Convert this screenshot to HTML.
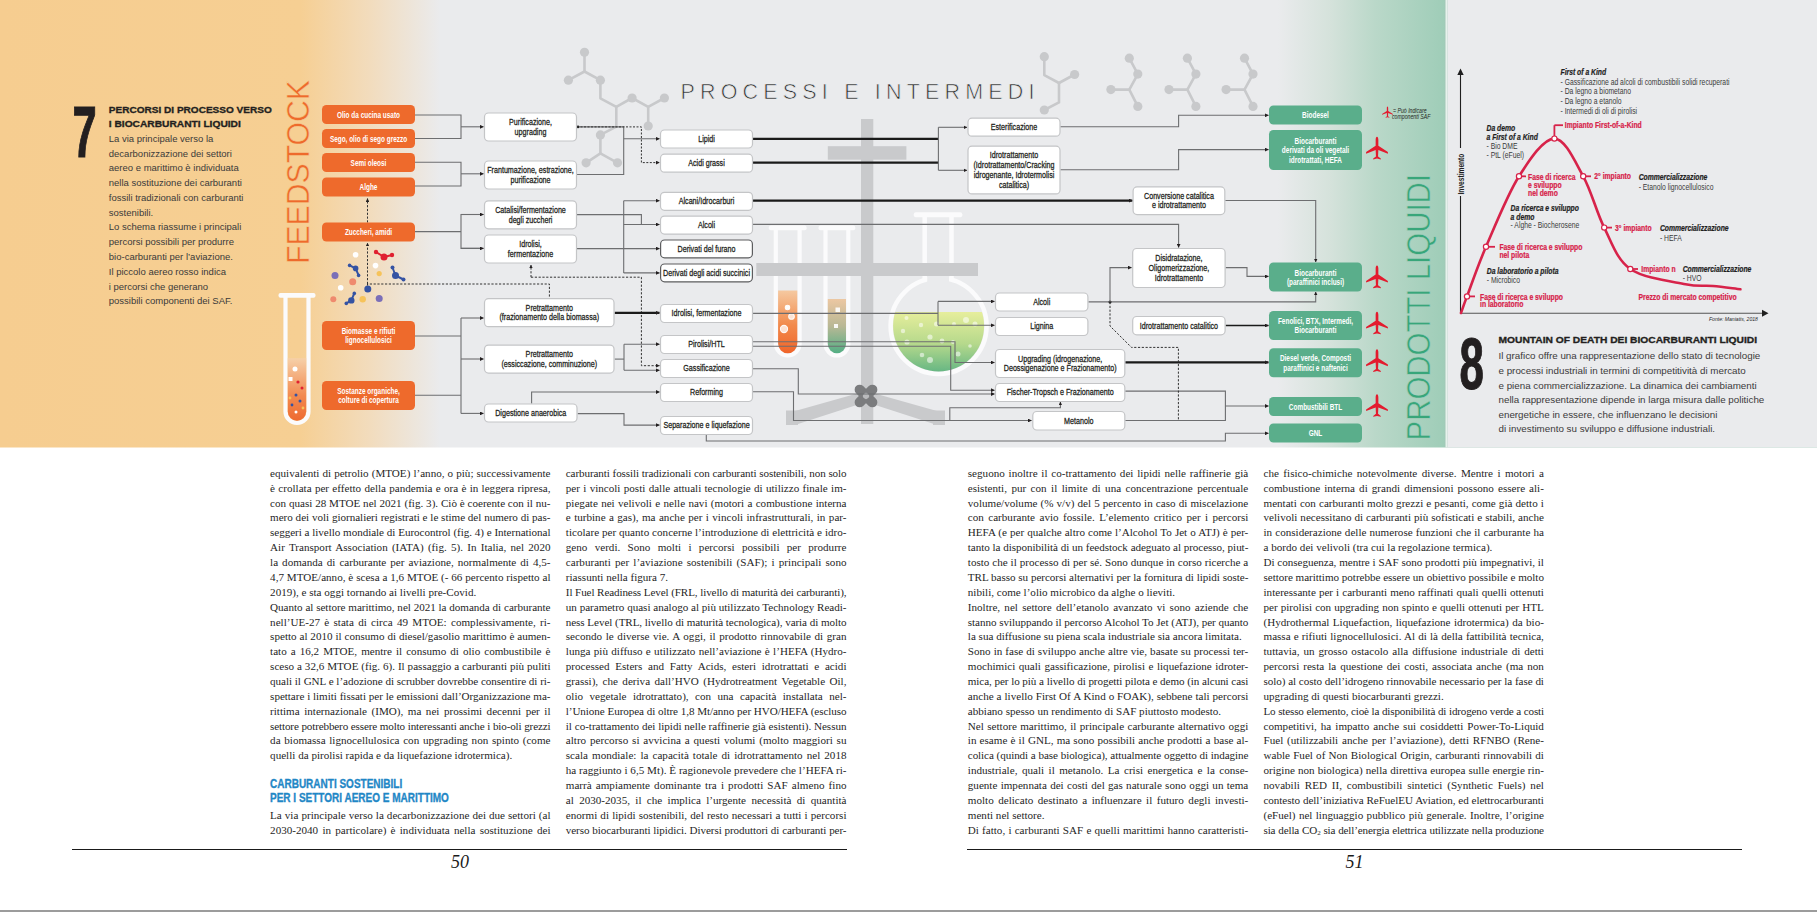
<!DOCTYPE html>
<html><head><meta charset="utf-8">
<style>
html,body{margin:0;padding:0;background:#fff;}
body{width:1817px;height:912px;position:relative;overflow:hidden;}
.ln{position:absolute;font-family:"Liberation Serif",serif;font-size:11.1px;line-height:14px;height:14px;color:#1f1f1f;text-align:justify;text-align-last:justify;white-space:nowrap;}
.ln.l{text-align:left;text-align-last:left;}
.ln sub{font-size:7px;vertical-align:-1px;line-height:0}
.hd{position:absolute;left:270px;font-family:"Liberation Sans",sans-serif;font-weight:bold;color:#1f87c6;font-size:12.5px;transform-origin:0 0;white-space:nowrap;-webkit-text-stroke:0.35px #1f87c6;}
.rule{position:absolute;height:1.3px;background:#1a1a1a;top:848.8px;}
.pn{position:absolute;font-family:"Liberation Serif",serif;font-style:italic;font-size:18px;color:#1a1a1a;top:851.5px;}
.bot{position:absolute;left:0;top:909.5px;width:1817px;height:2.5px;background:#9c9c9c;}
</style></head><body>
<svg width="1817" height="448" viewBox="0 0 1817 448" style="position:absolute;left:0;top:0"><defs>
<linearGradient id="bgL" x1="0" x2="1817" y1="0" y2="0" gradientUnits="userSpaceOnUse">
 <stop offset="0" stop-color="#f6cd90"/>
 <stop offset="0.1651" stop-color="#f6cf93"/>
 <stop offset="0.2036" stop-color="#f2dcbd"/>
 <stop offset="0.2422" stop-color="#eaebed"/>
 <stop offset="0.7034" stop-color="#eaebed"/>
 <stop offset="0.7320" stop-color="#d5e2db"/>
 <stop offset="0.7567" stop-color="#bad8c9"/>
 <stop offset="0.7947" stop-color="#9fcdb8"/>
 <stop offset="0.7958" stop-color="#a3c4b6"/>
 <stop offset="1" stop-color="#9fcbb7"/>
</linearGradient>
<linearGradient id="tubeO" x1="0" x2="0" y1="0" y2="1">
 <stop offset="0" stop-color="#f5c9a0"/><stop offset="0.55" stop-color="#f28a4c"/><stop offset="1" stop-color="#f0652a"/>
</linearGradient>
<linearGradient id="tubeG" x1="0" x2="0" y1="0" y2="1">
 <stop offset="0" stop-color="#ecc7a2"/><stop offset="0.5" stop-color="#b9b895"/><stop offset="1" stop-color="#53ae84"/>
</linearGradient>
<linearGradient id="flaskG" x1="0" x2="0" y1="0" y2="1">
 <stop offset="0" stop-color="#e6ee9c"/><stop offset="0.45" stop-color="#b6d98c"/><stop offset="1" stop-color="#4aaa80"/>
</linearGradient>
<linearGradient id="tubeL" x1="0" x2="0" y1="0" y2="1">
 <stop offset="0" stop-color="#f6d0a8"/><stop offset="0.6" stop-color="#f28a50"/><stop offset="1" stop-color="#ee6a30"/>
</linearGradient>
<marker id="ar" viewBox="0 0 6 6" refX="5.5" refY="3" markerWidth="3.8" markerHeight="3.8" orient="auto" markerUnits="userSpaceOnUse"><path d="M0,0 L6,3 L0,6 z" fill="#231f20"/></marker>
</defs>
<rect x="0" y="0" width="1817" height="447.5" fill="url(#bgL)"/>
<rect x="1445.5" y="0" width="2" height="447.5" fill="#e6f2ec"/>
<rect x="1447.5" y="0" width="369.5" height="447.5" fill="#eaebed"/>
<polyline points="584.5,52.3 584.5,71.5 568.4,80.2" fill="none" stroke="#c8c9cb" stroke-width="2.6" stroke-linejoin="round" stroke-linecap="round"/>
<polyline points="584.5,71.5 600.4,80.2 600.4,98.3 616.3,106.8 632.1,98 648.2,106.8 664.4,98" fill="none" stroke="#c8c9cb" stroke-width="2.6" stroke-linejoin="round" stroke-linecap="round"/>
<polyline points="648.2,106.8 648.2,126" fill="none" stroke="#c8c9cb" stroke-width="2.6" stroke-linejoin="round" stroke-linecap="round"/>
<polyline points="616.3,106.8 616.3,126.7 600.4,134.9 600.4,153.3 586.1,162.8" fill="none" stroke="#c8c9cb" stroke-width="2.6" stroke-linejoin="round" stroke-linecap="round"/>
<polyline points="600.4,153.3 617.5,162.8" fill="none" stroke="#c8c9cb" stroke-width="2.6" stroke-linejoin="round" stroke-linecap="round"/>
<circle cx="584.5" cy="52.3" r="4.6" fill="#c8c9cb"/>
<circle cx="568.4" cy="80.2" r="4.6" fill="#c8c9cb"/>
<circle cx="600.4" cy="80.2" r="4.6" fill="#c8c9cb"/>
<circle cx="632.1" cy="98" r="4.6" fill="#c8c9cb"/>
<circle cx="664.4" cy="98" r="4.6" fill="#c8c9cb"/>
<circle cx="648.2" cy="126" r="4.6" fill="#c8c9cb"/>
<circle cx="600.4" cy="134.9" r="4.6" fill="#c8c9cb"/>
<circle cx="586.1" cy="162.8" r="4.6" fill="#c8c9cb"/>
<circle cx="617.5" cy="162.8" r="4.6" fill="#c8c9cb"/>
<polyline points="1044.3,56.7 1044.3,75.1 1059,83 1074.6,74.5" fill="none" stroke="#c8c9cb" stroke-width="2.6" stroke-linejoin="round" stroke-linecap="round"/>
<polyline points="1059,83 1059,102.4 1044.3,110" fill="none" stroke="#c8c9cb" stroke-width="2.6" stroke-linejoin="round" stroke-linecap="round"/>
<circle cx="1044.3" cy="56.7" r="4.6" fill="#c8c9cb"/>
<circle cx="1074.6" cy="74.5" r="4.6" fill="#c8c9cb"/>
<circle cx="1044.3" cy="110" r="4.6" fill="#c8c9cb"/>
<polyline points="1129.3,58.2 1137.8,74.1 1129.3,89.6 1110.9,89.6" fill="none" stroke="#c8c9cb" stroke-width="2.6" stroke-linejoin="round" stroke-linecap="round"/>
<polyline points="1129.3,89.6 1137.8,106.4" fill="none" stroke="#c8c9cb" stroke-width="2.6" stroke-linejoin="round" stroke-linecap="round"/>
<circle cx="1129.3" cy="58.2" r="4.6" fill="#c8c9cb"/>
<circle cx="1137.8" cy="74.1" r="4.6" fill="#c8c9cb"/>
<circle cx="1110.9" cy="89.6" r="4.6" fill="#c8c9cb"/>
<circle cx="1137.8" cy="106.4" r="4.6" fill="#c8c9cb"/>
<polyline points="1187.3999999999999,58.2 1195.8999999999999,74.1 1187.3999999999999,89.6 1169.0,89.6" fill="none" stroke="#c8c9cb" stroke-width="2.6" stroke-linejoin="round" stroke-linecap="round"/>
<polyline points="1187.3999999999999,89.6 1195.8999999999999,106.4" fill="none" stroke="#c8c9cb" stroke-width="2.6" stroke-linejoin="round" stroke-linecap="round"/>
<circle cx="1187.3999999999999" cy="58.2" r="4.6" fill="#c8c9cb"/>
<circle cx="1195.8999999999999" cy="74.1" r="4.6" fill="#c8c9cb"/>
<circle cx="1169.0" cy="89.6" r="4.6" fill="#c8c9cb"/>
<circle cx="1195.8999999999999" cy="106.4" r="4.6" fill="#c8c9cb"/>
<polyline points="1244.5,58.2 1253.0,74.1 1244.5,89.6 1226.1000000000001,89.6" fill="none" stroke="#c8c9cb" stroke-width="2.6" stroke-linejoin="round" stroke-linecap="round"/>
<polyline points="1244.5,89.6 1253.0,106.4" fill="none" stroke="#c8c9cb" stroke-width="2.6" stroke-linejoin="round" stroke-linecap="round"/>
<circle cx="1244.5" cy="58.2" r="4.6" fill="#c8c9cb"/>
<circle cx="1253.0" cy="74.1" r="4.6" fill="#c8c9cb"/>
<circle cx="1226.1000000000001" cy="89.6" r="4.6" fill="#c8c9cb"/>
<circle cx="1253.0" cy="106.4" r="4.6" fill="#c8c9cb"/>
<path d="M775.8,228 L775.8,343.59999999999997 A11.900000000000034,11.900000000000034 0 0 0 799.6,343.59999999999997 L799.6,228" fill="none" stroke="#fbfbfc" stroke-width="4.2"/>
<rect x="768.8" y="225.5" width="37.80000000000007" height="4.8" rx="2" fill="#fbfbfc"/>
<path d="M778.1,290.5 L778.1,343.59999999999997 A9.600000000000033,9.600000000000033 0 0 0 797.3000000000001,343.59999999999997 L797.3000000000001,290.5 z" fill="url(#tubeO)"/>
<path d="M825.5,228 L825.5,344.1 A11.399999999999977,11.399999999999977 0 0 0 848.3,344.1 L848.3,228" fill="none" stroke="#fbfbfc" stroke-width="4.2"/>
<rect x="818.5" y="225.5" width="36.799999999999955" height="4.8" rx="2" fill="#fbfbfc"/>
<path d="M827.8,299 L827.8,344.1 A9.099999999999977,9.099999999999977 0 0 0 846.0,344.1 L846.0,299 z" fill="url(#tubeG)"/>
<circle cx="787.5" cy="307.5" r="2.2" fill="#fde8dc" stroke="#fff" stroke-width="1.1" opacity="0.95"/>
<circle cx="791.5" cy="316.5" r="2.8" fill="#fde8dc" stroke="#fff" stroke-width="1.1" opacity="0.95"/>
<circle cx="784" cy="329" r="3.6" fill="#fde8dc" stroke="#fff" stroke-width="1.1" opacity="0.95"/>
<rect x="785.6" y="305.5" width="4" height="4" fill="#fff" opacity="0.9"/>
<rect x="835.5" y="307.5" width="4.5" height="4.5" fill="#fff" opacity="0.9"/>
<rect x="834" y="324" width="4" height="4" fill="#fff" opacity="0.9"/>
<circle cx="938.6" cy="326" r="48" fill="none" stroke="#fbfbfc" stroke-width="4.5"/>
<clipPath id="fc"><circle cx="938.6" cy="326" r="45.5"/></clipPath>
<rect x="890" y="312" width="100" height="70" fill="url(#flaskG)" clip-path="url(#fc)"/>
<path d="M924.7,214 L924.7,280 M951.5,214 L951.5,280" stroke="#fbfbfc" stroke-width="4.5"/>
<rect x="913.8" y="212.3" width="48.5" height="5" rx="2" fill="#fbfbfc"/>
<rect x="927.2" y="272" width="21.8" height="12" fill="#eaebed"/>
<circle cx="906.5" cy="318" r="2" fill="#fff" opacity="0.55"/>
<circle cx="921" cy="325" r="2.2" fill="#fff" opacity="0.55"/>
<circle cx="936.5" cy="324" r="2.5" fill="#fff" opacity="0.55"/>
<circle cx="954" cy="324" r="2" fill="#fff" opacity="0.55"/>
<circle cx="966" cy="320" r="3" fill="#fff" opacity="0.55"/>
<circle cx="975" cy="324" r="2.5" fill="#fff" opacity="0.55"/>
<circle cx="903" cy="331" r="2.2" fill="#fff" opacity="0.55"/>
<circle cx="907" cy="342" r="2.6" fill="#fff" opacity="0.55"/>
<circle cx="930" cy="337" r="2.6" fill="#fff" opacity="0.55"/>
<circle cx="942" cy="341" r="2.4" fill="#fff" opacity="0.55"/>
<circle cx="958" cy="354" r="2.5" fill="#fff" opacity="0.55"/>
<circle cx="922" cy="355" r="2.3" fill="#fff" opacity="0.55"/>
<circle cx="930" cy="360" r="3" fill="#fff" opacity="0.55"/>
<circle cx="970" cy="346" r="1.8" fill="#fff" opacity="0.55"/>
<circle cx="953" cy="342" r="2" fill="#fff" opacity="0.55"/>
<rect x="861" y="119" width="12.3" height="305" fill="#c9cacc"/>
<rect x="827.8" y="146.2" width="78.6" height="13.5" fill="#c9cacc"/>
<rect x="756.3" y="263" width="221.7" height="13" fill="#c9cacc"/>
<polygon points="788,413 866,391 866,402 798,424 788,424" fill="#c9cacc"/>
<polygon points="944,413 866,391 866,402 934,424 944,424" fill="#c9cacc"/>
<rect x="786" y="410.5" width="12" height="14.5" fill="#c9cacc"/>
<rect x="933" y="410.5" width="12" height="14.5" fill="#c9cacc"/>
<g transform="translate(866,396) rotate(45)"><rect x="-14" y="-5" width="28" height="10" rx="5" fill="#7b7c7e"/><rect x="-5" y="-14" width="10" height="28" rx="5" fill="#7b7c7e"/><circle cx="0" cy="0" r="3" fill="#b9babc"/></g>
<path d="M285.5,295.5 L285.5,411.5 A11.5,11.5 0 0 0 308.5,411.5 L308.5,295.5" fill="none" stroke="#fbfbfc" stroke-width="4.2"/>
<rect x="278.5" y="293.0" width="37.0" height="4.8" rx="2" fill="#fbfbfc"/>
<path d="M287.8,358.3 L287.8,411.5 A9.2,9.2 0 0 0 306.2,411.5 L306.2,358.3 z" fill="url(#tubeL)"/>
<circle cx="355.6" cy="254.7" r="2.8" fill="#fff"/>
<circle cx="375.5" cy="265.6" r="2.8" fill="#fff"/>
<circle cx="340.7" cy="287.8" r="2.8" fill="#fff"/>
<circle cx="335" cy="275.5" r="3.5" fill="#7b6fb8"/>
<circle cx="379.2" cy="298.4" r="3.5" fill="#7b6fb8"/>
<circle cx="352.7" cy="281.8" r="3.5" fill="#ef8a6e"/>
<circle cx="333.3" cy="299.2" r="3" fill="#ef8a6e"/>
<circle cx="379.2" cy="273.6" r="2.6" fill="#f6c35a"/>
<circle cx="362.7" cy="299.2" r="3.2" fill="#f6c35a"/>
<circle cx="367.8" cy="289" r="3.5" fill="#3553a3"/>
<line x1="376" y1="252" x2="384" y2="257" stroke="#e02030" stroke-width="2"/>
<line x1="384" y1="257" x2="392" y2="255" stroke="#e02030" stroke-width="2"/>
<circle cx="384" cy="257" r="3.5" fill="#e02030"/>
<circle cx="376" cy="252" r="2.2" fill="#e02030"/>
<circle cx="392" cy="255" r="2.2" fill="#e02030"/>
<line x1="349.6" y1="265.4" x2="355.6" y2="268.4" stroke="#3553a3" stroke-width="2"/>
<line x1="355.6" y1="268.4" x2="358.6" y2="275.4" stroke="#3553a3" stroke-width="2"/>
<circle cx="355.6" cy="268.4" r="2.8" fill="#3553a3"/>
<circle cx="349.6" cy="265.4" r="1.8" fill="#3553a3"/>
<circle cx="358.6" cy="275.4" r="1.8" fill="#3553a3"/>
<line x1="392.5" y1="267.5" x2="395.5" y2="275.5" stroke="#3553a3" stroke-width="2"/>
<line x1="395.5" y1="275.5" x2="403.5" y2="279.5" stroke="#3553a3" stroke-width="2"/>
<circle cx="395.5" cy="275.5" r="3.5" fill="#3553a3"/>
<circle cx="392.5" cy="267.5" r="2" fill="#3553a3"/>
<circle cx="403.5" cy="279.5" r="2" fill="#3553a3"/>
<line x1="346.3" y1="303.4" x2="351.3" y2="300.4" stroke="#3553a3" stroke-width="2"/>
<line x1="351.3" y1="300.4" x2="354.3" y2="293.4" stroke="#3553a3" stroke-width="2"/>
<circle cx="351.3" cy="300.4" r="3.2" fill="#3553a3"/>
<circle cx="346.3" cy="303.4" r="1.8" fill="#3553a3"/>
<circle cx="354.3" cy="293.4" r="1.8" fill="#3553a3"/>
<circle cx="295" cy="369" r="2.5" fill="#fff"/>
<circle cx="298" cy="382" r="1.6" fill="#e02030"/>
<circle cx="302" cy="388" r="1.5" fill="#e02030"/>
<circle cx="296" cy="395" r="1.5" fill="#3553a3"/>
<circle cx="300" cy="401" r="1.5" fill="#3553a3"/>
<circle cx="292" cy="405" r="1.4" fill="#3553a3"/>
<circle cx="303" cy="408" r="1.4" fill="#f6c35a"/>
<circle cx="296" cy="412" r="1.5" fill="#fff"/>
<circle cx="290" cy="398" r="1.4" fill="#f6c35a"/>
<rect x="288.5" y="377" width="4" height="4" fill="#fff"/>
<polyline points="415,115 461,115 461,138.5 415,138.5" fill="none" stroke="#6d6e70" stroke-width="1.1"/>
<polyline points="461,126.8 483.5,126.8" fill="none" stroke="#6d6e70" stroke-width="1.1" marker-end="url(#ar)"/>
<polyline points="415,162.3 461,162.3 461,186 415,186" fill="none" stroke="#6d6e70" stroke-width="1.1"/>
<polyline points="461,173.8 483.5,173.8" fill="none" stroke="#6d6e70" stroke-width="1.1" marker-end="url(#ar)"/>
<polyline points="415,231.6 461,231.6" fill="none" stroke="#6d6e70" stroke-width="1.1"/>
<polyline points="483.5,214.5 461,214.5 461,248.4 483.5,248.4" fill="none" stroke="#6d6e70" stroke-width="1.1"/>
<polyline points="461,214.5 483.5,214.5" fill="none" stroke="#6d6e70" stroke-width="1.1" marker-end="url(#ar)"/>
<polyline points="461,248.4 483.5,248.4" fill="none" stroke="#6d6e70" stroke-width="1.1" marker-end="url(#ar)"/>
<polyline points="415,336 461,336" fill="none" stroke="#6d6e70" stroke-width="1.1"/>
<polyline points="415,395.3 461,395.3" fill="none" stroke="#6d6e70" stroke-width="1.1"/>
<polyline points="461,318 461,413.4" fill="none" stroke="#6d6e70" stroke-width="1.1"/>
<polyline points="461,318 483.5,318" fill="none" stroke="#6d6e70" stroke-width="1.1" marker-end="url(#ar)"/>
<polyline points="461,359 483.5,359" fill="none" stroke="#6d6e70" stroke-width="1.1" marker-end="url(#ar)"/>
<polyline points="461,413.4 483.5,413.4" fill="none" stroke="#6d6e70" stroke-width="1.1" marker-end="url(#ar)"/>
<polyline points="367.5,285.5 367.5,284 549.4,284 549.4,298" fill="none" stroke="#333" stroke-width="1" stroke-dasharray="2.2,1.6"/>
<polyline points="367.5,284 367.5,243" fill="none" stroke="#333" stroke-width="1" stroke-dasharray="2.2,1.6" marker-end="url(#ar)"/>
<polyline points="367.5,222.5 367.5,198.5" fill="none" stroke="#333" stroke-width="1" stroke-dasharray="2.2,1.6" marker-end="url(#ar)"/>
<polyline points="577,126.9 623.7,126.9 623.7,174.5 577,174.5" fill="none" stroke="#6d6e70" stroke-width="1.1"/>
<polyline points="623.7,138.8 659.5,138.8" fill="none" stroke="#6d6e70" stroke-width="1.1" marker-end="url(#ar)"/>
<polyline points="577,126.9 641.4,126.9 641.4,162.6 659.5,162.6" fill="none" stroke="#333" stroke-width="1" stroke-dasharray="2,1.5" marker-end="url(#ar)"/>
<circle cx="578" cy="126.9" r="1.3" fill="#222"/>
<polyline points="577,214.6 641.4,214.6 641.4,224.5" fill="none" stroke="#6d6e70" stroke-width="1.1"/>
<polyline points="623.7,200.7 623.7,272.9" fill="none" stroke="#6d6e70" stroke-width="1.1"/>
<polyline points="623.7,200.7 659.5,200.7" fill="none" stroke="#6d6e70" stroke-width="1.1" marker-end="url(#ar)"/>
<polyline points="623.7,224.5 659.5,224.5" fill="none" stroke="#6d6e70" stroke-width="1.1" marker-end="url(#ar)"/>
<polyline points="623.7,272.9 659.5,272.9" fill="none" stroke="#6d6e70" stroke-width="1.1" marker-end="url(#ar)"/>
<polyline points="577,248.6 659.5,248.6" fill="none" stroke="#6d6e70" stroke-width="1.1" marker-end="url(#ar)"/>
<polyline points="531,277.2 641.4,277.2 641.4,365.7 659.5,365.7" fill="none" stroke="#333" stroke-width="1" stroke-dasharray="2.2,1.6" marker-end="url(#ar)"/>
<polyline points="531,277.2 531,265" fill="none" stroke="#333" stroke-width="1" stroke-dasharray="2.2,1.6" marker-end="url(#ar)"/>
<polyline points="614.7,312.8 659.5,312.8" fill="none" stroke="#1a1a1a" stroke-width="2.2" marker-end="url(#ar)"/>
<polyline points="614.7,359.1 624,359.1" fill="none" stroke="#6d6e70" stroke-width="1.1"/>
<polyline points="624,344.2 624,370.3" fill="none" stroke="#6d6e70" stroke-width="1.1"/>
<polyline points="624,344.2 659.5,344.2" fill="none" stroke="#6d6e70" stroke-width="1.1" marker-end="url(#ar)"/>
<polyline points="624,370.3 659.5,370.3" fill="none" stroke="#6d6e70" stroke-width="1.1" marker-end="url(#ar)"/>
<polyline points="531.6,403.5 531.6,392 659.5,392" fill="none" stroke="#6d6e70" stroke-width="1.1" marker-end="url(#ar)"/>
<polyline points="577.7,413.6 624,413.6 624,425.1 659.5,425.1" fill="none" stroke="#6d6e70" stroke-width="1.1" marker-end="url(#ar)"/>
<polyline points="706.3,435 706.3,441 1225.4,441 1225.4,433.3 1268.5,433.3" fill="none" stroke="#6d6e70" stroke-width="1.1" marker-end="url(#ar)"/>
<polyline points="753,138.8 938.4,138.8" fill="none" stroke="#1a1a1a" stroke-width="2.2"/>
<polyline points="753,162.6 938.4,162.6" fill="none" stroke="#1a1a1a" stroke-width="2.2"/>
<polyline points="938.4,127.3 938.4,170.3" fill="none" stroke="#6d6e70" stroke-width="1.1"/>
<polyline points="938.4,127.3 967,127.3" fill="none" stroke="#6d6e70" stroke-width="1.1" marker-end="url(#ar)"/>
<polyline points="938.4,170.3 967,170.3" fill="none" stroke="#6d6e70" stroke-width="1.1" marker-end="url(#ar)"/>
<polyline points="753,200.6 1132.5,200.6" fill="none" stroke="#1a1a1a" stroke-width="2.2" marker-end="url(#ar)"/>
<polyline points="753,224.4 1178.6,224.4 1178.6,247.5" fill="none" stroke="#6d6e70" stroke-width="1.1" marker-end="url(#ar)"/>
<polyline points="753,313.4 938,313.4" fill="none" stroke="#6d6e70" stroke-width="1.1"/>
<polyline points="938,301.4 938,325.3" fill="none" stroke="#6d6e70" stroke-width="1.1"/>
<polyline points="938,301.4 994.5,301.4" fill="none" stroke="#6d6e70" stroke-width="1.1" marker-end="url(#ar)"/>
<polyline points="938,325.3 994.5,325.3" fill="none" stroke="#6d6e70" stroke-width="1.1" marker-end="url(#ar)"/>
<polyline points="753,341.8 955,341.8 955,362.5 994.5,362.5" fill="none" stroke="#6d6e70" stroke-width="1.1" marker-end="url(#ar)"/>
<polyline points="753,346.3 950.7,346.3 950.7,390.2 994.5,390.2" fill="none" stroke="#6d6e70" stroke-width="1.1" marker-end="url(#ar)"/>
<polyline points="753,368.8 798.3,368.8 798.3,394 994.5,394" fill="none" stroke="#6d6e70" stroke-width="1.1" marker-end="url(#ar)"/>
<polyline points="753,391.8 793.5,391.8 793.5,420.5 1031.5,420.5" fill="none" stroke="#6d6e70" stroke-width="1.1" marker-end="url(#ar)"/>
<polyline points="949.8,420.5 949.8,407.8 1060.4,407.8 1060.4,402" fill="none" stroke="#6d6e70" stroke-width="1.1" marker-end="url(#ar)"/>
<polyline points="1060.4,126.8 1178.6,126.8 1178.6,115.3 1268.5,115.3" fill="none" stroke="#6d6e70" stroke-width="1.1" marker-end="url(#ar)"/>
<polyline points="1060.4,169.8 1178.6,169.8 1178.6,149.6 1268.5,149.6" fill="none" stroke="#6d6e70" stroke-width="1.1" marker-end="url(#ar)"/>
<polyline points="1225.3,200.5 1315.7,200.5 1315.7,262" fill="none" stroke="#6d6e70" stroke-width="1.1" marker-end="url(#ar)"/>
<polyline points="1088.4,301.9 1315.7,301.9 1315.7,292" fill="none" stroke="#6d6e70" stroke-width="1.1" marker-end="url(#ar)"/>
<circle cx="1110" cy="302" r="1.5" fill="#222"/>
<polyline points="1110,302 1110,267.6 1131.5,267.6" fill="none" stroke="#6d6e70" stroke-width="1.1" marker-end="url(#ar)"/>
<polyline points="1225.6,267.6 1247,267.6 1247,276.4 1268.5,276.4" fill="none" stroke="#6d6e70" stroke-width="1.1" marker-end="url(#ar)"/>
<polyline points="1225.6,325.5 1268.5,325.5" fill="none" stroke="#1a1a1a" stroke-width="1.4" marker-end="url(#ar)"/>
<polyline points="1125.3,362.3 1268.5,362.3" fill="none" stroke="#1a1a1a" stroke-width="2.2" marker-end="url(#ar)"/>
<polyline points="1125.3,391.1 1225.4,391.1 1225.4,420.5 1125.3,420.5" fill="none" stroke="#6d6e70" stroke-width="1.1"/>
<polyline points="1225.4,406 1268.5,406" fill="none" stroke="#6d6e70" stroke-width="1.1" marker-end="url(#ar)"/>
<polyline points="1110,302 1110,326 1131.5,347.4 1178.4,347.4 1178.4,420.5" fill="none" stroke="#333" stroke-width="1" stroke-dasharray="2.2,1.6"/>
<rect x="322" y="105" width="93" height="19" rx="4.5" fill="#ee6a2c"/>
<text transform="translate(368.5,117.8) scale(0.7,1)" text-anchor="middle" font-family="Liberation Sans" font-size="9.2" font-weight="bold" font-style="normal" fill="#fff">Olio da cucina usato</text>
<rect x="322" y="129" width="93" height="19" rx="4.5" fill="#ee6a2c"/>
<text transform="translate(368.5,141.8) scale(0.7,1)" text-anchor="middle" font-family="Liberation Sans" font-size="9.2" font-weight="bold" font-style="normal" fill="#fff">Sego, olio di sego grezzo</text>
<rect x="322" y="153" width="93" height="19" rx="4.5" fill="#ee6a2c"/>
<text transform="translate(368.5,165.8) scale(0.7,1)" text-anchor="middle" font-family="Liberation Sans" font-size="9.2" font-weight="bold" font-style="normal" fill="#fff">Semi oleosi</text>
<rect x="322" y="177.5" width="93" height="19" rx="4.5" fill="#ee6a2c"/>
<text transform="translate(368.5,190.3) scale(0.7,1)" text-anchor="middle" font-family="Liberation Sans" font-size="9.2" font-weight="bold" font-style="normal" fill="#fff">Alghe</text>
<rect x="322" y="222.5" width="93" height="19" rx="4.5" fill="#ee6a2c"/>
<text transform="translate(368.5,235.3) scale(0.7,1)" text-anchor="middle" font-family="Liberation Sans" font-size="9.2" font-weight="bold" font-style="normal" fill="#fff">Zuccheri, amidi</text>
<rect x="322" y="321" width="93" height="29" rx="4.5" fill="#ee6a2c"/>
<text transform="translate(368.5,334.15000000000003) scale(0.7,1)" text-anchor="middle" font-family="Liberation Sans" font-size="9.2" font-weight="bold" font-style="normal" fill="#fff">Biomasse e rifiuti</text>
<text transform="translate(368.5,343.45) scale(0.7,1)" text-anchor="middle" font-family="Liberation Sans" font-size="9.2" font-weight="bold" font-style="normal" fill="#fff">lignocellulosici</text>
<rect x="322" y="381" width="93" height="29" rx="4.5" fill="#ee6a2c"/>
<text transform="translate(368.5,394.15000000000003) scale(0.7,1)" text-anchor="middle" font-family="Liberation Sans" font-size="9.2" font-weight="bold" font-style="normal" fill="#fff">Sostanze organiche,</text>
<text transform="translate(368.5,403.45) scale(0.7,1)" text-anchor="middle" font-family="Liberation Sans" font-size="9.2" font-weight="bold" font-style="normal" fill="#fff">colture di copertura</text>
<rect x="484.5" y="113.0" width="92" height="28" rx="4" fill="#fff" stroke="#c4c5c7" stroke-width="1.2"/>
<text transform="translate(530.5,125.10000000000001) scale(0.77,1)" text-anchor="middle" font-family="Liberation Sans" font-size="9.3" font-weight="normal" font-style="normal" fill="#231f20" stroke="#231f20" stroke-width="0.28">Purificazione,</text>
<text transform="translate(530.5,134.70000000000002) scale(0.77,1)" text-anchor="middle" font-family="Liberation Sans" font-size="9.3" font-weight="normal" font-style="normal" fill="#231f20" stroke="#231f20" stroke-width="0.28">upgrading</text>
<rect x="484.5" y="161.0" width="92" height="28" rx="4" fill="#fff" stroke="#c4c5c7" stroke-width="1.2"/>
<text transform="translate(530.5,173.1) scale(0.77,1)" text-anchor="middle" font-family="Liberation Sans" font-size="9.3" font-weight="normal" font-style="normal" fill="#231f20" stroke="#231f20" stroke-width="0.28">Frantumazione, estrazione,</text>
<text transform="translate(530.5,182.70000000000002) scale(0.77,1)" text-anchor="middle" font-family="Liberation Sans" font-size="9.3" font-weight="normal" font-style="normal" fill="#231f20" stroke="#231f20" stroke-width="0.28">purificazione</text>
<rect x="484.5" y="200.8" width="92" height="28" rx="4" fill="#fff" stroke="#c4c5c7" stroke-width="1.2"/>
<text transform="translate(530.5,212.9) scale(0.77,1)" text-anchor="middle" font-family="Liberation Sans" font-size="9.3" font-weight="normal" font-style="normal" fill="#231f20" stroke="#231f20" stroke-width="0.28">Catalisi/fermentazione</text>
<text transform="translate(530.5,222.50000000000003) scale(0.77,1)" text-anchor="middle" font-family="Liberation Sans" font-size="9.3" font-weight="normal" font-style="normal" fill="#231f20" stroke="#231f20" stroke-width="0.28">degli zuccheri</text>
<rect x="484.5" y="235.0" width="92" height="28" rx="4" fill="#fff" stroke="#c4c5c7" stroke-width="1.2"/>
<text transform="translate(530.5,247.1) scale(0.77,1)" text-anchor="middle" font-family="Liberation Sans" font-size="9.3" font-weight="normal" font-style="normal" fill="#231f20" stroke="#231f20" stroke-width="0.28">Idrolisi,</text>
<text transform="translate(530.5,256.7) scale(0.77,1)" text-anchor="middle" font-family="Liberation Sans" font-size="9.3" font-weight="normal" font-style="normal" fill="#231f20" stroke="#231f20" stroke-width="0.28">fermentazione</text>
<rect x="484.5" y="298.7" width="129.5" height="28" rx="4" fill="#fff" stroke="#c4c5c7" stroke-width="1.2"/>
<text transform="translate(549.25,310.79999999999995) scale(0.77,1)" text-anchor="middle" font-family="Liberation Sans" font-size="9.3" font-weight="normal" font-style="normal" fill="#231f20" stroke="#231f20" stroke-width="0.28">Pretrattamento</text>
<text transform="translate(549.25,320.4) scale(0.77,1)" text-anchor="middle" font-family="Liberation Sans" font-size="9.3" font-weight="normal" font-style="normal" fill="#231f20" stroke="#231f20" stroke-width="0.28">(frazionamento della biomassa)</text>
<rect x="484.5" y="345.1" width="129.5" height="28" rx="4" fill="#fff" stroke="#c4c5c7" stroke-width="1.2"/>
<text transform="translate(549.25,357.2) scale(0.77,1)" text-anchor="middle" font-family="Liberation Sans" font-size="9.3" font-weight="normal" font-style="normal" fill="#231f20" stroke="#231f20" stroke-width="0.28">Pretrattamento</text>
<text transform="translate(549.25,366.8) scale(0.77,1)" text-anchor="middle" font-family="Liberation Sans" font-size="9.3" font-weight="normal" font-style="normal" fill="#231f20" stroke="#231f20" stroke-width="0.28">(essiccazione, comminuzione)</text>
<rect x="484.5" y="404.0" width="92.5" height="18" rx="4" fill="#fff" stroke="#c4c5c7" stroke-width="1.2"/>
<text transform="translate(530.75,415.9) scale(0.77,1)" text-anchor="middle" font-family="Liberation Sans" font-size="9.3" font-weight="normal" font-style="normal" fill="#231f20" stroke="#231f20" stroke-width="0.28">Digestione anaerobica</text>
<rect x="660.5" y="130.0" width="92" height="18" rx="4" fill="#fff" stroke="#c4c5c7" stroke-width="1.2"/>
<text transform="translate(706.5,141.9) scale(0.77,1)" text-anchor="middle" font-family="Liberation Sans" font-size="9.3" font-weight="normal" font-style="normal" fill="#231f20" stroke="#231f20" stroke-width="0.28">Lipidi</text>
<rect x="660.5" y="154.2" width="92" height="18" rx="4" fill="#fff" stroke="#c4c5c7" stroke-width="1.2"/>
<text transform="translate(706.5,166.1) scale(0.77,1)" text-anchor="middle" font-family="Liberation Sans" font-size="9.3" font-weight="normal" font-style="normal" fill="#231f20" stroke="#231f20" stroke-width="0.28">Acidi grassi</text>
<rect x="660.5" y="192.3" width="92" height="18" rx="4" fill="#fff" stroke="#c4c5c7" stroke-width="1.2"/>
<text transform="translate(706.5,204.20000000000002) scale(0.77,1)" text-anchor="middle" font-family="Liberation Sans" font-size="9.3" font-weight="normal" font-style="normal" fill="#231f20" stroke="#231f20" stroke-width="0.28">Alcani/Idrocarburi</text>
<rect x="660.5" y="216.1" width="92" height="18" rx="4" fill="#fff" stroke="#c4c5c7" stroke-width="1.2"/>
<text transform="translate(706.5,228.0) scale(0.77,1)" text-anchor="middle" font-family="Liberation Sans" font-size="9.3" font-weight="normal" font-style="normal" fill="#231f20" stroke="#231f20" stroke-width="0.28">Alcoli</text>
<rect x="660.6" y="240.0" width="91.8" height="17.8" rx="4" fill="#fff" stroke="#5c5d5f" stroke-width="1.2"/>
<text transform="translate(706.5,251.8) scale(0.77,1)" text-anchor="middle" font-family="Liberation Sans" font-size="9.3" font-weight="normal" font-style="normal" fill="#231f20" stroke="#231f20" stroke-width="0.28">Derivati del furano</text>
<rect x="660.6" y="264.0" width="91.8" height="17.8" rx="4" fill="#fff" stroke="#5c5d5f" stroke-width="1.2"/>
<text transform="translate(706.5,275.79999999999995) scale(0.77,1)" text-anchor="middle" font-family="Liberation Sans" font-size="9.3" font-weight="normal" font-style="normal" fill="#231f20" stroke="#231f20" stroke-width="0.28">Derivati degli acidi succinici</text>
<rect x="660.5" y="304.5" width="92" height="18" rx="4" fill="#fff" stroke="#c4c5c7" stroke-width="1.2"/>
<text transform="translate(706.5,316.4) scale(0.77,1)" text-anchor="middle" font-family="Liberation Sans" font-size="9.3" font-weight="normal" font-style="normal" fill="#231f20" stroke="#231f20" stroke-width="0.28">Idrolisi, fermentazione</text>
<rect x="660.5" y="335.5" width="92" height="18" rx="4" fill="#fff" stroke="#c4c5c7" stroke-width="1.2"/>
<text transform="translate(706.5,347.4) scale(0.77,1)" text-anchor="middle" font-family="Liberation Sans" font-size="9.3" font-weight="normal" font-style="normal" fill="#231f20" stroke="#231f20" stroke-width="0.28">Pirolisi/HTL</text>
<rect x="660.5" y="359.5" width="92" height="18" rx="4" fill="#fff" stroke="#c4c5c7" stroke-width="1.2"/>
<text transform="translate(706.5,371.4) scale(0.77,1)" text-anchor="middle" font-family="Liberation Sans" font-size="9.3" font-weight="normal" font-style="normal" fill="#231f20" stroke="#231f20" stroke-width="0.28">Gassificazione</text>
<rect x="660.5" y="383.5" width="92" height="18" rx="4" fill="#fff" stroke="#c4c5c7" stroke-width="1.2"/>
<text transform="translate(706.5,395.4) scale(0.77,1)" text-anchor="middle" font-family="Liberation Sans" font-size="9.3" font-weight="normal" font-style="normal" fill="#231f20" stroke="#231f20" stroke-width="0.28">Reforming</text>
<rect x="660.5" y="416.5" width="92" height="18" rx="4" fill="#fff" stroke="#c4c5c7" stroke-width="1.2"/>
<text transform="translate(706.5,428.4) scale(0.77,1)" text-anchor="middle" font-family="Liberation Sans" font-size="9.3" font-weight="normal" font-style="normal" fill="#231f20" stroke="#231f20" stroke-width="0.28">Separazione e liquefazione</text>
<rect x="968.0" y="118.2" width="92" height="18" rx="4" fill="#fff" stroke="#c4c5c7" stroke-width="1.2"/>
<text transform="translate(1014.0,130.1) scale(0.77,1)" text-anchor="middle" font-family="Liberation Sans" font-size="9.3" font-weight="normal" font-style="normal" fill="#231f20" stroke="#231f20" stroke-width="0.28">Esterificazione</text>
<rect x="968.0" y="146.2" width="92" height="47.7" rx="4" fill="#fff" stroke="#c4c5c7" stroke-width="1.2"/>
<text transform="translate(1014.0,158.25) scale(0.77,1)" text-anchor="middle" font-family="Liberation Sans" font-size="9.3" font-weight="normal" font-style="normal" fill="#231f20" stroke="#231f20" stroke-width="0.28">Idrotrattamento</text>
<text transform="translate(1014.0,168.04999999999998) scale(0.77,1)" text-anchor="middle" font-family="Liberation Sans" font-size="9.3" font-weight="normal" font-style="normal" fill="#231f20" stroke="#231f20" stroke-width="0.28">(Idrotrattamento/Cracking</text>
<text transform="translate(1014.0,177.85) scale(0.77,1)" text-anchor="middle" font-family="Liberation Sans" font-size="9.3" font-weight="normal" font-style="normal" fill="#231f20" stroke="#231f20" stroke-width="0.28">idrogenante, Idrotermolisi</text>
<text transform="translate(1014.0,187.64999999999998) scale(0.77,1)" text-anchor="middle" font-family="Liberation Sans" font-size="9.3" font-weight="normal" font-style="normal" fill="#231f20" stroke="#231f20" stroke-width="0.28">catalitica)</text>
<rect x="995.5" y="293.0" width="92.4" height="18" rx="4" fill="#fff" stroke="#c4c5c7" stroke-width="1.2"/>
<text transform="translate(1041.7,304.9) scale(0.77,1)" text-anchor="middle" font-family="Liberation Sans" font-size="9.3" font-weight="normal" font-style="normal" fill="#231f20" stroke="#231f20" stroke-width="0.28">Alcoli</text>
<rect x="995.5" y="317.5" width="92.4" height="18" rx="4" fill="#fff" stroke="#c4c5c7" stroke-width="1.2"/>
<text transform="translate(1041.7,329.4) scale(0.77,1)" text-anchor="middle" font-family="Liberation Sans" font-size="9.3" font-weight="normal" font-style="normal" fill="#231f20" stroke="#231f20" stroke-width="0.28">Lignina</text>
<rect x="995.5" y="349.5" width="129.3" height="28" rx="4" fill="#fff" stroke="#c4c5c7" stroke-width="1.2"/>
<text transform="translate(1060.15,361.59999999999997) scale(0.77,1)" text-anchor="middle" font-family="Liberation Sans" font-size="9.3" font-weight="normal" font-style="normal" fill="#231f20" stroke="#231f20" stroke-width="0.28">Upgrading (idrogenazione,</text>
<text transform="translate(1060.15,371.2) scale(0.77,1)" text-anchor="middle" font-family="Liberation Sans" font-size="9.3" font-weight="normal" font-style="normal" fill="#231f20" stroke="#231f20" stroke-width="0.28">Deossigenazione e Frazionamento)</text>
<rect x="995.5" y="383.5" width="129.3" height="18" rx="4" fill="#fff" stroke="#c4c5c7" stroke-width="1.2"/>
<text transform="translate(1060.15,395.4) scale(0.77,1)" text-anchor="middle" font-family="Liberation Sans" font-size="9.3" font-weight="normal" font-style="normal" fill="#231f20" stroke="#231f20" stroke-width="0.28">Fischer-Tropsch e Frazionamento</text>
<rect x="1032.8" y="411.5" width="92" height="18.5" rx="4" fill="#fff" stroke="#c4c5c7" stroke-width="1.2"/>
<text transform="translate(1078.8,423.65) scale(0.77,1)" text-anchor="middle" font-family="Liberation Sans" font-size="9.3" font-weight="normal" font-style="normal" fill="#231f20" stroke="#231f20" stroke-width="0.28">Metanolo</text>
<rect x="1133.1" y="186.9" width="91.7" height="27.7" rx="4" fill="#fff" stroke="#c4c5c7" stroke-width="1.2"/>
<text transform="translate(1178.9499999999998,198.85) scale(0.77,1)" text-anchor="middle" font-family="Liberation Sans" font-size="9.3" font-weight="normal" font-style="normal" fill="#231f20" stroke="#231f20" stroke-width="0.28">Conversione catalitica</text>
<text transform="translate(1178.9499999999998,208.45000000000002) scale(0.77,1)" text-anchor="middle" font-family="Liberation Sans" font-size="9.3" font-weight="normal" font-style="normal" fill="#231f20" stroke="#231f20" stroke-width="0.28">e idrotrattamento</text>
<rect x="1132.7" y="248.5" width="92.4" height="39" rx="4" fill="#fff" stroke="#c4c5c7" stroke-width="1.2"/>
<text transform="translate(1178.9,261.29999999999995) scale(0.77,1)" text-anchor="middle" font-family="Liberation Sans" font-size="9.3" font-weight="normal" font-style="normal" fill="#231f20" stroke="#231f20" stroke-width="0.28">Disidratazione,</text>
<text transform="translate(1178.9,270.9) scale(0.77,1)" text-anchor="middle" font-family="Liberation Sans" font-size="9.3" font-weight="normal" font-style="normal" fill="#231f20" stroke="#231f20" stroke-width="0.28">Oligomerizzazione,</text>
<text transform="translate(1178.9,280.5) scale(0.77,1)" text-anchor="middle" font-family="Liberation Sans" font-size="9.3" font-weight="normal" font-style="normal" fill="#231f20" stroke="#231f20" stroke-width="0.28">Idrotrattamento</text>
<rect x="1132.7" y="316.5" width="92.4" height="18.3" rx="4" fill="#fff" stroke="#c4c5c7" stroke-width="1.2"/>
<text transform="translate(1178.9,328.54999999999995) scale(0.77,1)" text-anchor="middle" font-family="Liberation Sans" font-size="9.3" font-weight="normal" font-style="normal" fill="#231f20" stroke="#231f20" stroke-width="0.28">Idrotrattamento catalitico</text>
<rect x="1269" y="105.5" width="93" height="19" rx="4.5" fill="#5aae8b"/>
<text transform="translate(1315.5,118.3) scale(0.7,1)" text-anchor="middle" font-family="Liberation Sans" font-size="9.2" font-weight="bold" font-style="normal" fill="#fff">Biodesel</text>
<rect x="1269" y="130" width="93" height="40" rx="4.5" fill="#5aae8b"/>
<text transform="translate(1315.5,144.0) scale(0.7,1)" text-anchor="middle" font-family="Liberation Sans" font-size="9.2" font-weight="bold" font-style="normal" fill="#fff">Biocarburanti</text>
<text transform="translate(1315.5,153.3) scale(0.7,1)" text-anchor="middle" font-family="Liberation Sans" font-size="9.2" font-weight="bold" font-style="normal" fill="#fff">derivati da oli vegetali</text>
<text transform="translate(1315.5,162.60000000000002) scale(0.7,1)" text-anchor="middle" font-family="Liberation Sans" font-size="9.2" font-weight="bold" font-style="normal" fill="#fff">idrotrattati, HEFA</text>
<rect x="1269" y="262.5" width="93" height="29" rx="4.5" fill="#5aae8b"/>
<text transform="translate(1315.5,275.65000000000003) scale(0.7,1)" text-anchor="middle" font-family="Liberation Sans" font-size="9.2" font-weight="bold" font-style="normal" fill="#fff">Biocarburanti</text>
<text transform="translate(1315.5,284.95) scale(0.7,1)" text-anchor="middle" font-family="Liberation Sans" font-size="9.2" font-weight="bold" font-style="normal" fill="#fff">(paraffinici inclusi)</text>
<rect x="1269" y="311" width="93" height="29" rx="4.5" fill="#5aae8b"/>
<text transform="translate(1315.5,324.15000000000003) scale(0.7,1)" text-anchor="middle" font-family="Liberation Sans" font-size="9.2" font-weight="bold" font-style="normal" fill="#fff">Fenolici, BTX, Intermedi,</text>
<text transform="translate(1315.5,333.45) scale(0.7,1)" text-anchor="middle" font-family="Liberation Sans" font-size="9.2" font-weight="bold" font-style="normal" fill="#fff">Biocarburanti</text>
<rect x="1269" y="348.3" width="93" height="29" rx="4.5" fill="#5aae8b"/>
<text transform="translate(1315.5,361.45000000000005) scale(0.7,1)" text-anchor="middle" font-family="Liberation Sans" font-size="9.2" font-weight="bold" font-style="normal" fill="#fff">Diesel verde, Composti</text>
<text transform="translate(1315.5,370.75) scale(0.7,1)" text-anchor="middle" font-family="Liberation Sans" font-size="9.2" font-weight="bold" font-style="normal" fill="#fff">paraffinici e naftenici</text>
<rect x="1269" y="397" width="93" height="19" rx="4.5" fill="#5aae8b"/>
<text transform="translate(1315.5,409.8) scale(0.7,1)" text-anchor="middle" font-family="Liberation Sans" font-size="9.2" font-weight="bold" font-style="normal" fill="#fff">Combustibili BTL</text>
<rect x="1269" y="423.5" width="93" height="19" rx="4.5" fill="#5aae8b"/>
<text transform="translate(1315.5,436.3) scale(0.7,1)" text-anchor="middle" font-family="Liberation Sans" font-size="9.2" font-weight="bold" font-style="normal" fill="#fff">GNL</text>
<g transform="translate(1377,148) scale(1.0)"><path d="M0,-11.2 C0.9,-11.2 1.35,-9.6 1.35,-8 L1.35,-2.2 L10.9,4.1 L10.9,5.7 L1.35,2.1 L1.05,8.4 L3.8,10.5 L3.8,11.4 L0,10.6 L-3.8,11.4 L-3.8,10.5 L-1.05,8.4 L-1.35,2.1 L-10.9,5.7 L-10.9,4.1 L-1.35,-2.2 L-1.35,-8 C-1.35,-9.6 -0.9,-11.2 0,-11.2 z" fill="#e31b2e"/></g>
<g transform="translate(1377,276.8) scale(1.0)"><path d="M0,-11.2 C0.9,-11.2 1.35,-9.6 1.35,-8 L1.35,-2.2 L10.9,4.1 L10.9,5.7 L1.35,2.1 L1.05,8.4 L3.8,10.5 L3.8,11.4 L0,10.6 L-3.8,11.4 L-3.8,10.5 L-1.05,8.4 L-1.35,2.1 L-10.9,5.7 L-10.9,4.1 L-1.35,-2.2 L-1.35,-8 C-1.35,-9.6 -0.9,-11.2 0,-11.2 z" fill="#e31b2e"/></g>
<g transform="translate(1377,322.9) scale(1.0)"><path d="M0,-11.2 C0.9,-11.2 1.35,-9.6 1.35,-8 L1.35,-2.2 L10.9,4.1 L10.9,5.7 L1.35,2.1 L1.05,8.4 L3.8,10.5 L3.8,11.4 L0,10.6 L-3.8,11.4 L-3.8,10.5 L-1.05,8.4 L-1.35,2.1 L-10.9,5.7 L-10.9,4.1 L-1.35,-2.2 L-1.35,-8 C-1.35,-9.6 -0.9,-11.2 0,-11.2 z" fill="#e31b2e"/></g>
<g transform="translate(1377,360.5) scale(1.0)"><path d="M0,-11.2 C0.9,-11.2 1.35,-9.6 1.35,-8 L1.35,-2.2 L10.9,4.1 L10.9,5.7 L1.35,2.1 L1.05,8.4 L3.8,10.5 L3.8,11.4 L0,10.6 L-3.8,11.4 L-3.8,10.5 L-1.05,8.4 L-1.35,2.1 L-10.9,5.7 L-10.9,4.1 L-1.35,-2.2 L-1.35,-8 C-1.35,-9.6 -0.9,-11.2 0,-11.2 z" fill="#e31b2e"/></g>
<g transform="translate(1377,405.4) scale(1.0)"><path d="M0,-11.2 C0.9,-11.2 1.35,-9.6 1.35,-8 L1.35,-2.2 L10.9,4.1 L10.9,5.7 L1.35,2.1 L1.05,8.4 L3.8,10.5 L3.8,11.4 L0,10.6 L-3.8,11.4 L-3.8,10.5 L-1.05,8.4 L-1.35,2.1 L-10.9,5.7 L-10.9,4.1 L-1.35,-2.2 L-1.35,-8 C-1.35,-9.6 -0.9,-11.2 0,-11.2 z" fill="#e31b2e"/></g>
<g transform="translate(1387.5,112) scale(0.5)"><path d="M0,-11.2 C0.9,-11.2 1.35,-9.6 1.35,-8 L1.35,-2.2 L10.9,4.1 L10.9,5.7 L1.35,2.1 L1.05,8.4 L3.8,10.5 L3.8,11.4 L0,10.6 L-3.8,11.4 L-3.8,10.5 L-1.05,8.4 L-1.35,2.1 L-10.9,5.7 L-10.9,4.1 L-1.35,-2.2 L-1.35,-8 C-1.35,-9.6 -0.9,-11.2 0,-11.2 z" fill="#e31b2e"/></g>
<text transform="translate(1393,112.5) scale(0.8,1)" text-anchor="start" font-family="Liberation Sans" font-size="6.5" font-weight="normal" font-style="italic" fill="#231f20">= Può Indicare</text>
<text transform="translate(1392,118.5) scale(0.8,1)" text-anchor="start" font-family="Liberation Sans" font-size="6.5" font-weight="normal" font-style="italic" fill="#231f20">componenti SAF</text>
<text transform="translate(308.5,264) rotate(-90) scale(1.0,1)" font-family="Liberation Sans" font-size="31.5" fill="#ee6a2c" stroke="#f6cf93" stroke-width="0.5" textLength="184" lengthAdjust="spacingAndGlyphs">FEEDSTOCK</text>
<text transform="translate(1430.3,440.5) rotate(-90)" font-family="Liberation Sans" font-size="33" fill="#38a67a" stroke="#a9d0bf" stroke-width="0.6" textLength="266.5" lengthAdjust="spacingAndGlyphs">PRODOTTI LIQUIDI</text>
<text x="680.5" y="98.8" font-family="Liberation Sans" font-size="21.5" fill="#2b2b2b" stroke="#eaebed" stroke-width="0.7" textLength="354" lengthAdjust="spacing">PROCESSI E INTERMEDI</text>
<text transform="translate(72.5,157.2) scale(0.6,1)" font-family="Liberation Sans" font-weight="bold" font-size="72.5" fill="#231f20" stroke="#231f20" stroke-width="1.2">7</text>
<text x="108.8" y="112.8" font-family="Liberation Sans" font-weight="bold" font-size="8.9" fill="#231f20" stroke="#231f20" stroke-width="0.3" textLength="163" lengthAdjust="spacingAndGlyphs">PERCORSI DI PROCESSO VERSO</text>
<text x="108.8" y="127" font-family="Liberation Sans" font-weight="bold" font-size="8.9" fill="#231f20" stroke="#231f20" stroke-width="0.3" textLength="132" lengthAdjust="spacingAndGlyphs">I BIOCARBURANTI LIQUIDI</text>
<text x="108.8" y="141.80" font-family="Liberation Sans" font-size="9.5" fill="#3b3a3a">La via principale verso la</text>
<text x="108.8" y="156.58" font-family="Liberation Sans" font-size="9.5" fill="#3b3a3a">decarbonizzazione dei settori</text>
<text x="108.8" y="171.36" font-family="Liberation Sans" font-size="9.5" fill="#3b3a3a">aereo e marittimo è individuata</text>
<text x="108.8" y="186.14" font-family="Liberation Sans" font-size="9.5" fill="#3b3a3a">nella sostituzione dei carburanti</text>
<text x="108.8" y="200.92" font-family="Liberation Sans" font-size="9.5" fill="#3b3a3a">fossili tradizionali con carburanti</text>
<text x="108.8" y="215.70" font-family="Liberation Sans" font-size="9.5" fill="#3b3a3a">sostenibili.</text>
<text x="108.8" y="230.48" font-family="Liberation Sans" font-size="9.5" fill="#3b3a3a">Lo schema riassume i principali</text>
<text x="108.8" y="245.26" font-family="Liberation Sans" font-size="9.5" fill="#3b3a3a">percorsi possibili per produrre</text>
<text x="108.8" y="260.04" font-family="Liberation Sans" font-size="9.5" fill="#3b3a3a">bio-carburanti per l’aviazione.</text>
<text x="108.8" y="274.82" font-family="Liberation Sans" font-size="9.5" fill="#3b3a3a">Il piccolo aereo rosso indica</text>
<text x="108.8" y="289.60" font-family="Liberation Sans" font-size="9.5" fill="#3b3a3a">i percorsi che generano</text>
<text x="108.8" y="304.38" font-family="Liberation Sans" font-size="9.5" fill="#3b3a3a">possibili componenti dei SAF.</text>
<line x1="1460.5" y1="313" x2="1460.5" y2="196" stroke="#1f1f1f" stroke-width="1.1"/>
<line x1="1460.5" y1="148" x2="1460.5" y2="73" stroke="#1f1f1f" stroke-width="1.1"/>
<path d="M1457.3,75 L1460.5,68.5 L1463.7,75 z" fill="#1f1f1f"/>
<text transform="translate(1463.8,194.5) rotate(-90) scale(0.8,1)" font-family="Liberation Sans" font-weight="bold" font-size="8.3" fill="#1f1f1f">Investimento</text>
<line x1="1460.5" y1="313.3" x2="1765" y2="313.3" stroke="#555" stroke-width="1.1"/>
<path d="M1762,309.8 L1768.5,313.3 L1762,316.8 z" fill="#1f1f1f"/>
<path d="M1461,313 C1462.0,310.2 1462.8,307.4 1467,296.4 C1471.2,285.4 1477.3,266.8 1486,246.8 C1494.7,226.8 1507.6,194.3 1519,176.3 C1530.4,158.3 1543.7,138.6 1554.4,138.6 C1565.1,138.6 1574.9,161.5 1583.2,176.3 C1591.5,191.1 1596.4,212.2 1604.2,227.6 C1612.0,243.0 1616.8,259.6 1630.3,269 C1643.8,278.4 1671.7,281.4 1685.5,284.2 C1699.3,287.0 1703.8,285.1 1713,286.0 C1722.2,286.9 1735.8,288.8 1740.4,289.3" fill="none" stroke="#d7234a" stroke-width="2.6" stroke-linecap="round"/>
<line x1="1554.4" y1="138.6" x2="1554.4" y2="125.2" stroke="#d7234a" stroke-width="1.8"/>
<line x1="1554.4" y1="125.2" x2="1563" y2="125.2" stroke="#d7234a" stroke-width="1.8"/>
<line x1="1467" y1="296.4" x2="1475" y2="296.4" stroke="#d7234a" stroke-width="1.8"/>
<line x1="1486" y1="246.8" x2="1495" y2="246.8" stroke="#d7234a" stroke-width="1.8"/>
<line x1="1519" y1="176.3" x2="1526" y2="176.3" stroke="#d7234a" stroke-width="1.8"/>
<line x1="1583.2" y1="176.3" x2="1591" y2="176.3" stroke="#d7234a" stroke-width="1.8"/>
<line x1="1604.2" y1="227.6" x2="1612" y2="227.6" stroke="#d7234a" stroke-width="1.8"/>
<line x1="1630.3" y1="269" x2="1638" y2="269" stroke="#d7234a" stroke-width="1.8"/>
<circle cx="1467" cy="296.4" r="2.6" fill="#fff" stroke="#d7234a" stroke-width="1.2"/>
<circle cx="1486" cy="246.8" r="2.6" fill="#fff" stroke="#d7234a" stroke-width="1.2"/>
<circle cx="1519" cy="176.3" r="2.6" fill="#fff" stroke="#d7234a" stroke-width="1.2"/>
<circle cx="1554.4" cy="138.6" r="2.6" fill="#fff" stroke="#d7234a" stroke-width="1.2"/>
<circle cx="1583.2" cy="176.3" r="2.6" fill="#fff" stroke="#d7234a" stroke-width="1.2"/>
<circle cx="1604.2" cy="227.6" r="2.6" fill="#fff" stroke="#d7234a" stroke-width="1.2"/>
<circle cx="1630.3" cy="269" r="2.6" fill="#fff" stroke="#d7234a" stroke-width="1.2"/>
<text transform="translate(1560.5,75.3) scale(0.83,1)" font-family="Liberation Sans" font-size="8.2" font-weight="bold" font-style="italic" fill="#1f1f1f" stroke="#1f1f1f" stroke-width="0.22">First of a Kind</text>
<text transform="translate(1560.5,84.6) scale(0.83,1)" font-family="Liberation Sans" font-size="8.2" font-weight="normal" font-style="normal" fill="#3b3b3b">- Gassificazione ad alcoli di combustibili solidi recuperati</text>
<text transform="translate(1560.5,94.3) scale(0.83,1)" font-family="Liberation Sans" font-size="8.2" font-weight="normal" font-style="normal" fill="#3b3b3b">- Da legno a biometano</text>
<text transform="translate(1560.5,104.0) scale(0.83,1)" font-family="Liberation Sans" font-size="8.2" font-weight="normal" font-style="normal" fill="#3b3b3b">- Da legno a etanolo</text>
<text transform="translate(1560.5,113.69999999999999) scale(0.83,1)" font-family="Liberation Sans" font-size="8.2" font-weight="normal" font-style="normal" fill="#3b3b3b">- Intermedi di oli di pirolisi</text>
<text transform="translate(1564.8,127.5) scale(0.83,1)" font-family="Liberation Sans" font-size="8.2" font-weight="bold" font-style="normal" fill="#d7234a" stroke="#d7234a" stroke-width="0.22">Impianto First-of-a-Kind</text>
<text transform="translate(1486.5,130.6) scale(0.83,1)" font-family="Liberation Sans" font-size="8.2" font-weight="bold" font-style="italic" fill="#1f1f1f" stroke="#1f1f1f" stroke-width="0.22">Da demo</text>
<text transform="translate(1486.5,139.5) scale(0.83,1)" font-family="Liberation Sans" font-size="8.2" font-weight="bold" font-style="italic" fill="#1f1f1f" stroke="#1f1f1f" stroke-width="0.22">a First of a Kind</text>
<text transform="translate(1486.5,149) scale(0.83,1)" font-family="Liberation Sans" font-size="8.2" font-weight="normal" font-style="normal" fill="#3b3b3b">- Bio DME</text>
<text transform="translate(1486.5,158.2) scale(0.83,1)" font-family="Liberation Sans" font-size="8.2" font-weight="normal" font-style="normal" fill="#3b3b3b">- PtL (eFuel)</text>
<text transform="translate(1528,179.7) scale(0.83,1)" font-family="Liberation Sans" font-size="8.2" font-weight="bold" font-style="normal" fill="#d7234a" stroke="#d7234a" stroke-width="0.22">Fase di ricerca</text>
<text transform="translate(1528,188.1) scale(0.83,1)" font-family="Liberation Sans" font-size="8.2" font-weight="bold" font-style="normal" fill="#d7234a" stroke="#d7234a" stroke-width="0.22">e sviluppo</text>
<text transform="translate(1528,195.8) scale(0.83,1)" font-family="Liberation Sans" font-size="8.2" font-weight="bold" font-style="normal" fill="#d7234a" stroke="#d7234a" stroke-width="0.22">nel demo</text>
<text transform="translate(1594.3,179.4) scale(0.83,1)" font-family="Liberation Sans" font-size="8.2" font-weight="bold" font-style="normal" fill="#d7234a" stroke="#d7234a" stroke-width="0.22">2° impianto</text>
<text transform="translate(1638.7,179.7) scale(0.83,1)" font-family="Liberation Sans" font-size="8.2" font-weight="bold" font-style="italic" fill="#1f1f1f" stroke="#1f1f1f" stroke-width="0.22">Commercializzazione</text>
<text transform="translate(1638.7,189.7) scale(0.83,1)" font-family="Liberation Sans" font-size="8.2" font-weight="normal" font-style="normal" fill="#3b3b3b">- Etanolo lignocellulosico</text>
<text transform="translate(1510.6,210.7) scale(0.83,1)" font-family="Liberation Sans" font-size="8.2" font-weight="bold" font-style="italic" fill="#1f1f1f" stroke="#1f1f1f" stroke-width="0.22">Da ricerca e sviluppo</text>
<text transform="translate(1510.6,219.5) scale(0.83,1)" font-family="Liberation Sans" font-size="8.2" font-weight="bold" font-style="italic" fill="#1f1f1f" stroke="#1f1f1f" stroke-width="0.22">a demo</text>
<text transform="translate(1510.6,228.4) scale(0.83,1)" font-family="Liberation Sans" font-size="8.2" font-weight="normal" font-style="normal" fill="#3b3b3b">- Alghe - Biocherosene</text>
<text transform="translate(1615,230.6) scale(0.83,1)" font-family="Liberation Sans" font-size="8.2" font-weight="bold" font-style="normal" fill="#d7234a" stroke="#d7234a" stroke-width="0.22">3° impianto</text>
<text transform="translate(1659.9,230.6) scale(0.83,1)" font-family="Liberation Sans" font-size="8.2" font-weight="bold" font-style="italic" fill="#1f1f1f" stroke="#1f1f1f" stroke-width="0.22">Commercializzazione</text>
<text transform="translate(1659.9,240.6) scale(0.83,1)" font-family="Liberation Sans" font-size="8.2" font-weight="normal" font-style="normal" fill="#3b3b3b">- HEFA</text>
<text transform="translate(1499.4,249.5) scale(0.83,1)" font-family="Liberation Sans" font-size="8.2" font-weight="bold" font-style="normal" fill="#d7234a" stroke="#d7234a" stroke-width="0.22">Fase di ricerca e sviluppo</text>
<text transform="translate(1499.4,257.5) scale(0.83,1)" font-family="Liberation Sans" font-size="8.2" font-weight="bold" font-style="normal" fill="#d7234a" stroke="#d7234a" stroke-width="0.22">nel pilota</text>
<text transform="translate(1641.3,272) scale(0.83,1)" font-family="Liberation Sans" font-size="8.2" font-weight="bold" font-style="normal" fill="#d7234a" stroke="#d7234a" stroke-width="0.22">Impianto n</text>
<text transform="translate(1682.7,272) scale(0.83,1)" font-family="Liberation Sans" font-size="8.2" font-weight="bold" font-style="italic" fill="#1f1f1f" stroke="#1f1f1f" stroke-width="0.22">Commercializzazione</text>
<text transform="translate(1682.7,281.2) scale(0.83,1)" font-family="Liberation Sans" font-size="8.2" font-weight="normal" font-style="normal" fill="#3b3b3b">- HVO</text>
<text transform="translate(1486.8,274.4) scale(0.83,1)" font-family="Liberation Sans" font-size="8.2" font-weight="bold" font-style="italic" fill="#1f1f1f" stroke="#1f1f1f" stroke-width="0.22">Da laboratorio a pilota</text>
<text transform="translate(1486.8,283.3) scale(0.83,1)" font-family="Liberation Sans" font-size="8.2" font-weight="normal" font-style="normal" fill="#3b3b3b">- Microbico</text>
<text transform="translate(1480,299.7) scale(0.83,1)" font-family="Liberation Sans" font-size="8.2" font-weight="bold" font-style="normal" fill="#d7234a" stroke="#d7234a" stroke-width="0.22">Fase di ricerca e sviluppo</text>
<text transform="translate(1480,307.4) scale(0.83,1)" font-family="Liberation Sans" font-size="8.2" font-weight="bold" font-style="normal" fill="#d7234a" stroke="#d7234a" stroke-width="0.22">in laboratorio</text>
<text transform="translate(1638.5,299.8) scale(0.83,1)" font-family="Liberation Sans" font-size="8.2" font-weight="bold" font-style="normal" fill="#d7234a" stroke="#d7234a" stroke-width="0.22">Prezzo di mercato competitivo</text>
<text transform="translate(1709,321.2) scale(0.85,1)" font-family="Liberation Sans" font-size="6" font-weight="normal" font-style="italic" fill="#1f1f1f">Fonte: Maniatis, 2018</text>
<text transform="translate(1459.5,388.5) scale(0.6,1)" font-family="Liberation Sans" font-weight="bold" font-size="73" fill="#231f20" stroke="#231f20" stroke-width="1.2">8</text>
<text x="1498.5" y="342.8" font-family="Liberation Sans" font-weight="bold" font-size="8.9" fill="#231f20" stroke="#231f20" stroke-width="0.3" textLength="258.5" lengthAdjust="spacingAndGlyphs">MOUNTAIN OF DEATH DEI BIOCARBURANTI LIQUIDI</text>
<text x="1498.5" y="359.40" font-family="Liberation Sans" font-size="9.8" fill="#3b3a3a">Il grafico offre una rappresentazione dello stato di tecnologie</text>
<text x="1498.5" y="374.00" font-family="Liberation Sans" font-size="9.8" fill="#3b3a3a">e processi industriali in termini di competitività di mercato</text>
<text x="1498.5" y="388.60" font-family="Liberation Sans" font-size="9.8" fill="#3b3a3a">e piena commercializzazione. La dinamica dei cambiamenti</text>
<text x="1498.5" y="403.20" font-family="Liberation Sans" font-size="9.8" fill="#3b3a3a">nella rappresentazione dipende in larga misura dalle politiche</text>
<text x="1498.5" y="417.80" font-family="Liberation Sans" font-size="9.8" fill="#3b3a3a">energetiche in essere, che influenzano le decisioni</text>
<text x="1498.5" y="432.40" font-family="Liberation Sans" font-size="9.8" fill="#3b3a3a">di investimento su sviluppo e diffusione industriali.</text></svg>
<div class="ln" style="left:270.1px;top:465.80px;width:280.4px;">equivalenti di petrolio (MTOE) l’anno, o più; successivamente</div>
<div class="ln" style="left:270.1px;top:480.67px;width:280.4px;">è crollata per effetto della pandemia e ora è in leggera ripresa,</div>
<div class="ln" style="left:270.1px;top:495.54px;width:280.4px;">con quasi 28 MTOE nel 2021 (fig. 3). Ciò è coerente con il nu-</div>
<div class="ln" style="left:270.1px;top:510.41px;width:280.4px;letter-spacing:-0.025px;">mero dei voli giornalieri registrati e le stime del numero di pas-</div>
<div class="ln" style="left:270.1px;top:525.28px;width:280.4px;letter-spacing:-0.049px;">seggeri a livello mondiale di Eurocontrol (fig. 4) e International</div>
<div class="ln" style="left:270.1px;top:540.15px;width:280.4px;">Air Transport Association (IATA) (fig. 5). In Italia, nel 2020</div>
<div class="ln" style="left:270.1px;top:555.02px;width:280.4px;">la domanda di carburante per aviazione, normalmente di 4,5-</div>
<div class="ln" style="left:270.1px;top:569.89px;width:280.4px;">4,7 MTOE/anno, è scesa a 1,6 MTOE (- 66 percento rispetto al</div>
<div class="ln l" style="left:270.1px;top:584.76px;width:280.4px;">2019), e sta oggi tornando ai livelli pre-Covid.</div>
<div class="ln" style="left:270.1px;top:599.63px;width:280.4px;letter-spacing:-0.032px;">Quanto al settore marittimo, nel 2021 la domanda di carburante</div>
<div class="ln" style="left:270.1px;top:614.50px;width:280.4px;">nell’UE-27 è stata di circa 49 MTOE: complessivamente, ri-</div>
<div class="ln" style="left:270.1px;top:629.37px;width:280.4px;">spetto al 2010 il consumo di diesel/gasolio marittimo è aumen-</div>
<div class="ln" style="left:270.1px;top:644.24px;width:280.4px;">tato a 16,2 MTOE, mentre il consumo di olio combustibile è</div>
<div class="ln" style="left:270.1px;top:659.11px;width:280.4px;">sceso a 32,6 MTOE (fig. 6). Il passaggio a carburanti più puliti</div>
<div class="ln" style="left:270.1px;top:673.98px;width:280.4px;letter-spacing:-0.053px;">quali il GNL e l’adozione di scrubber dovrebbe consentire di ri-</div>
<div class="ln" style="left:270.1px;top:688.85px;width:280.4px;letter-spacing:-0.036px;">spettare i limiti fissati per le emissioni dall’Organizzazione ma-</div>
<div class="ln" style="left:270.1px;top:703.72px;width:280.4px;">rittima internazionale (IMO), ma nei prossimi decenni per il</div>
<div class="ln" style="left:270.1px;top:718.59px;width:280.4px;letter-spacing:-0.140px;">settore potrebbero essere molto interessanti anche i bio-oli grezzi</div>
<div class="ln" style="left:270.1px;top:733.46px;width:280.4px;">da biomassa lignocellulosica con upgrading non spinto (come</div>
<div class="ln l" style="left:270.1px;top:748.33px;width:280.4px;">quelli da pirolisi rapida e da liquefazione idrotermica).</div><div class="ln" style="left:270.1px;top:808.00px;width:280.4px;">La via principale verso la decarbonizzazione dei due settori (al</div>
<div class="ln" style="left:270.1px;top:822.87px;width:280.4px;">2030-2040 in particolare) è individuata nella sostituzione dei</div><div class="ln" style="left:565.8px;top:465.80px;width:280.7px;letter-spacing:-0.098px;">carburanti fossili tradizionali con carburanti sostenibili, non solo</div>
<div class="ln" style="left:565.8px;top:480.67px;width:280.7px;">per i vincoli posti dalle attuali tecnologie di utilizzo finale im-</div>
<div class="ln" style="left:565.8px;top:495.54px;width:280.7px;">piegate nei velivoli e nelle navi (motori a combustione interna</div>
<div class="ln" style="left:565.8px;top:510.41px;width:280.7px;">e turbine a gas), ma anche per i vincoli infrastrutturali, in par-</div>
<div class="ln" style="left:565.8px;top:525.28px;width:280.7px;">ticolare per quanto concerne l’introduzione di elettricità e idro-</div>
<div class="ln" style="left:565.8px;top:540.15px;width:280.7px;">geno verdi. Sono molti i percorsi possibili per produrre</div>
<div class="ln" style="left:565.8px;top:555.02px;width:280.7px;">carburanti per l’aviazione sostenibili (SAF); i principali sono</div>
<div class="ln l" style="left:565.8px;top:569.89px;width:280.7px;">riassunti nella figura 7.</div>
<div class="ln" style="left:565.8px;top:584.76px;width:280.7px;letter-spacing:-0.114px;">Il Fuel Readiness Level (FRL, livello di maturità dei carburanti),</div>
<div class="ln" style="left:565.8px;top:599.63px;width:280.7px;letter-spacing:-0.031px;">un parametro quasi analogo al più utilizzato Technology Readi-</div>
<div class="ln" style="left:565.8px;top:614.50px;width:280.7px;letter-spacing:-0.078px;">ness Level (TRL, livello di maturità tecnologica), varia di molto</div>
<div class="ln" style="left:565.8px;top:629.37px;width:280.7px;">secondo le diverse vie. A oggi, il prodotto rinnovabile di gran</div>
<div class="ln" style="left:565.8px;top:644.24px;width:280.7px;">lunga più diffuso e utilizzato nell’aviazione è l’HEFA (Hydro-</div>
<div class="ln" style="left:565.8px;top:659.11px;width:280.7px;">processed Esters and Fatty Acids, esteri idrotrattati e acidi</div>
<div class="ln" style="left:565.8px;top:673.98px;width:280.7px;">grassi), che deriva dall’HVO (Hydrotreatment Vegetable Oil,</div>
<div class="ln" style="left:565.8px;top:688.85px;width:280.7px;">olio vegetale idrotrattato), con una capacità installata nel-</div>
<div class="ln" style="left:565.8px;top:703.72px;width:280.7px;letter-spacing:-0.072px;">l’Unione Europea di oltre 1,8 Mt/anno per HVO/HEFA (escluso</div>
<div class="ln" style="left:565.8px;top:718.59px;width:280.7px;letter-spacing:-0.026px;">il co-trattamento dei lipidi nelle raffinerie già esistenti). Nessun</div>
<div class="ln" style="left:565.8px;top:733.46px;width:280.7px;">altro percorso si avvicina a questi volumi (molto maggiori su</div>
<div class="ln" style="left:565.8px;top:748.33px;width:280.7px;">scala mondiale: la capacità totale di idrotrattamento nel 2018</div>
<div class="ln" style="left:565.8px;top:763.20px;width:280.7px;">ha raggiunto i 6,5 Mt). È ragionevole prevedere che l’HEFA ri-</div>
<div class="ln" style="left:565.8px;top:778.07px;width:280.7px;">marrà ampiamente dominante tra i prodotti SAF almeno fino</div>
<div class="ln" style="left:565.8px;top:792.94px;width:280.7px;">al 2030-2035, il che implica l’urgente necessità di quantità</div>
<div class="ln" style="left:565.8px;top:807.81px;width:280.7px;">enormi di lipidi sostenibili, del resto necessari a tutti i percorsi</div>
<div class="ln" style="left:565.8px;top:822.68px;width:280.7px;letter-spacing:-0.077px;">verso biocarburanti lipidici. Diversi produttori di carburanti per-</div><div class="ln" style="left:967.8px;top:465.80px;width:280.5px;">seguono inoltre il co-trattamento dei lipidi nelle raffinerie già</div>
<div class="ln" style="left:967.8px;top:480.67px;width:280.5px;">esistenti, pur con il limite di una concentrazione percentuale</div>
<div class="ln" style="left:967.8px;top:495.54px;width:280.5px;">volume/volume (% v/v) del 5 percento in caso di miscelazione</div>
<div class="ln" style="left:967.8px;top:510.41px;width:280.5px;">con carburante avio fossile. L’elemento critico per i percorsi</div>
<div class="ln" style="left:967.8px;top:525.28px;width:280.5px;">HEFA (e per qualche altro come l’Alcohol To Jet o ATJ) è per-</div>
<div class="ln" style="left:967.8px;top:540.15px;width:280.5px;letter-spacing:-0.057px;">tanto la disponibilità di un feedstock adeguato al processo, piut-</div>
<div class="ln" style="left:967.8px;top:555.02px;width:280.5px;">tosto che il processo di per sé. Sono dunque in corso ricerche a</div>
<div class="ln" style="left:967.8px;top:569.89px;width:280.5px;letter-spacing:-0.041px;">TRL basso su percorsi alternativi per la fornitura di lipidi soste-</div>
<div class="ln l" style="left:967.8px;top:584.76px;width:280.5px;">nibili, come l’olio microbico da alghe o lieviti.</div>
<div class="ln" style="left:967.8px;top:599.63px;width:280.5px;">Inoltre, nel settore dell’etanolo avanzato vi sono aziende che</div>
<div class="ln" style="left:967.8px;top:614.50px;width:280.5px;letter-spacing:-0.064px;">stanno sviluppando il percorso Alcohol To Jet (ATJ), per quanto</div>
<div class="ln l" style="left:967.8px;top:629.37px;width:280.5px;">la sua diffusione su piena scala industriale sia ancora limitata.</div>
<div class="ln" style="left:967.8px;top:644.24px;width:280.5px;">Sono in fase di sviluppo anche altre vie, basate su processi ter-</div>
<div class="ln" style="left:967.8px;top:659.11px;width:280.5px;">mochimici quali gassificazione, pirolisi e liquefazione idroter-</div>
<div class="ln" style="left:967.8px;top:673.98px;width:280.5px;letter-spacing:-0.082px;">mica, per lo più a livello di progetti pilota e demo (in alcuni casi</div>
<div class="ln" style="left:967.8px;top:688.85px;width:280.5px;">anche a livello First Of A Kind o FOAK), sebbene tali percorsi</div>
<div class="ln l" style="left:967.8px;top:703.72px;width:280.5px;">abbiano spesso un rendimento di SAF piuttosto modesto.</div>
<div class="ln" style="left:967.8px;top:718.59px;width:280.5px;">Nel settore marittimo, il principale carburante alternativo oggi</div>
<div class="ln" style="left:967.8px;top:733.46px;width:280.5px;">in esame è il GNL, ma sono possibili anche prodotti a base al-</div>
<div class="ln" style="left:967.8px;top:748.33px;width:280.5px;letter-spacing:-0.081px;">colica (quindi a base biologica), attualmente oggetto di indagine</div>
<div class="ln" style="left:967.8px;top:763.20px;width:280.5px;">industriale, quali il metanolo. La crisi energetica e la conse-</div>
<div class="ln" style="left:967.8px;top:778.07px;width:280.5px;">guente impennata dei costi del gas naturale sono oggi un tema</div>
<div class="ln" style="left:967.8px;top:792.94px;width:280.5px;">molto delicato destinato a influenzare il futuro degli investi-</div>
<div class="ln l" style="left:967.8px;top:807.81px;width:280.5px;">menti nel settore.</div>
<div class="ln" style="left:967.8px;top:822.68px;width:280.5px;">Di fatto, i carburanti SAF e quelli marittimi hanno caratteristi-</div><div class="ln" style="left:1263.5px;top:465.80px;width:280.4px;">che fisico-chimiche notevolmente diverse. Mentre i motori a</div>
<div class="ln" style="left:1263.5px;top:480.67px;width:280.4px;">combustione interna di grandi dimensioni possono essere ali-</div>
<div class="ln" style="left:1263.5px;top:495.54px;width:280.4px;">mentati con carburanti molto grezzi e pesanti, come già detto i</div>
<div class="ln" style="left:1263.5px;top:510.41px;width:280.4px;">velivoli necessitano di carburanti più sofisticati e stabili, anche</div>
<div class="ln" style="left:1263.5px;top:525.28px;width:280.4px;">in considerazione delle numerose funzioni che il carburante ha</div>
<div class="ln l" style="left:1263.5px;top:540.15px;width:280.4px;">a bordo dei velivoli (tra cui la regolazione termica).</div>
<div class="ln" style="left:1263.5px;top:555.02px;width:280.4px;letter-spacing:-0.038px;">Di conseguenza, mentre i SAF sono prodotti più impegnativi, il</div>
<div class="ln" style="left:1263.5px;top:569.89px;width:280.4px;letter-spacing:-0.041px;">settore marittimo potrebbe essere un obiettivo possibile e molto</div>
<div class="ln" style="left:1263.5px;top:584.76px;width:280.4px;">interessante per i carburanti meno raffinati quali quelli ottenuti</div>
<div class="ln" style="left:1263.5px;top:599.63px;width:280.4px;">per pirolisi con upgrading non spinto e quelli ottenuti per HTL</div>
<div class="ln" style="left:1263.5px;top:614.50px;width:280.4px;">(Hydrothermal Liquefaction, liquefazione idrotermica) da bio-</div>
<div class="ln" style="left:1263.5px;top:629.37px;width:280.4px;">massa e rifiuti lignocellulosici. Al di là della fattibilità tecnica,</div>
<div class="ln" style="left:1263.5px;top:644.24px;width:280.4px;">tuttavia, un grosso ostacolo alla diffusione industriale di detti</div>
<div class="ln" style="left:1263.5px;top:659.11px;width:280.4px;">percorsi resta la questione dei costi, associata anche (ma non</div>
<div class="ln" style="left:1263.5px;top:673.98px;width:280.4px;letter-spacing:-0.063px;">solo) al costo dell’idrogeno rinnovabile necessario per la fase di</div>
<div class="ln l" style="left:1263.5px;top:688.85px;width:280.4px;">upgrading di questi biocarburanti grezzi.</div>
<div class="ln" style="left:1263.5px;top:703.72px;width:280.4px;letter-spacing:-0.163px;">Lo stesso elemento, cioè la disponibilità di idrogeno verde a costi</div>
<div class="ln" style="left:1263.5px;top:718.59px;width:280.4px;">competitivi, ha impatto anche sui cosiddetti Power-To-Liquid</div>
<div class="ln" style="left:1263.5px;top:733.46px;width:280.4px;">Fuel (utilizzabili anche per l’aviazione), detti RFNBO (Rene-</div>
<div class="ln" style="left:1263.5px;top:748.33px;width:280.4px;">wable Fuel of Non Biological Origin, carburanti rinnovabili di</div>
<div class="ln" style="left:1263.5px;top:763.20px;width:280.4px;">origine non biologica) nella direttiva europea sulle energie rin-</div>
<div class="ln" style="left:1263.5px;top:778.07px;width:280.4px;">novabili RED II, combustibili sintetici (Synthetic Fuels) nel</div>
<div class="ln" style="left:1263.5px;top:792.94px;width:280.4px;letter-spacing:-0.057px;">contesto dell’iniziativa ReFuelEU Aviation, ed elettrocarburanti</div>
<div class="ln" style="left:1263.5px;top:807.81px;width:280.4px;">(eFuel) nel linguaggio pubblico più generale. Inoltre, l’origine</div>
<div class="ln" style="left:1263.5px;top:822.68px;width:280.4px;letter-spacing:-0.139px;">sia della CO<sub>2</sub> sia dell’energia elettrica utilizzate nella produzione</div>
<div class="hd" style="top:776.5px;transform:scale(0.8,1)">CARBURANTI SOSTENIBILI</div>
<div class="hd" style="top:790.8px;transform:scale(0.8,1)">PER I SETTORI AEREO E MARITTIMO</div>
<div class="rule" style="left:72px;width:774.7px"></div>
<div class="rule" style="left:967px;width:775px"></div>
<div class="pn" style="left:451px">50</div>
<div class="pn" style="left:1345.5px">51</div>
<div class="bot"></div>
</body></html>
